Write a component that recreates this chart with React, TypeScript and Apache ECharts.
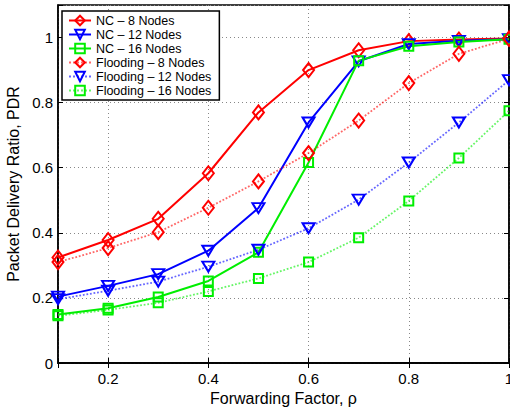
import React, { useEffect, useRef } from "react";
import * as echarts from "echarts";

const xValues = [0.1, 0.2, 0.3, 0.4, 0.5, 0.6, 0.7, 0.8, 0.9, 1.0];
const nc8 = [0.324, 0.378, 0.443, 0.583, 0.77, 0.9, 0.961, 0.989, 0.994, 0.997];
const nc12 = [0.204, 0.237, 0.273, 0.345, 0.476, 0.739, 0.927, 0.98, 0.99, 0.995];
const nc16 = [0.149, 0.168, 0.203, 0.252, 0.34, 0.616, 0.929, 0.973, 0.986, 0.995];
const fl8 = [0.31, 0.353, 0.402, 0.477, 0.558, 0.645, 0.745, 0.86, 0.95, 0.996];
const fl12 = [0.196, 0.222, 0.25, 0.296, 0.348, 0.414, 0.502, 0.616, 0.739, 0.869];
const fl16 = [0.145, 0.163, 0.185, 0.22, 0.26, 0.31, 0.385, 0.498, 0.63, 0.775];

const seriesNames = [
  "NC – 8 Nodes",
  "NC – 12 Nodes",
  "NC – 16 Nodes",
  "Flooding – 8 Nodes",
  "Flooding – 12 Nodes",
  "Flooding – 16 Nodes",
];

const FONT = "Liberation Sans, Arial, Helvetica, sans-serif";

export default function App() {
  const ref = useRef<HTMLDivElement>(null);
  useEffect(() => {
    if (!ref.current) return;
    const chart = echarts.init(ref.current, null, { renderer: "svg" });
    const pts = (ys: number[]) => xValues.map((x, i) => [x, ys[i]]);
    const mk = (
      name: string,
      ys: number[],
      color: string,
      dotted: boolean,
      symbol: string,
      size: number | number[],
      rotate: number
    ) => ({
      name,
      type: "line",
      data: pts(ys),
      symbol,
      symbolSize: size,
      symbolRotate: rotate,
      showAllSymbol: true,
      lineStyle: {
        color,
        width: dotted ? 1.8 : 2,
        type: dotted ? "dotted" : "solid",
        opacity: dotted ? 0.6 : 1,
      },
      itemStyle: { color: "rgba(255,255,255,0)", borderColor: color, borderWidth: 2 },
      emphasis: { disabled: true },
    });
    chart.setOption({
      animation: false,
      textStyle: { fontFamily: FONT },
      grid: {
        left: 58,
        right: 1,
        top: 5,
        bottom: 46,
        outerBoundsMode: "none",
        containLabel: false,
        show: true,
        borderColor: "#000",
        borderWidth: 1.5,
      },
      legend: {
        left: 62,
        top: 11,
        orient: "vertical",
        backgroundColor: "#fff",
        borderColor: "#000",
        borderWidth: 1.5,
        borderRadius: 0,
        padding: [3, 8, 3, 6],
        itemGap: 1,
        itemWidth: 22,
        itemHeight: 12,
        textStyle: { fontSize: 12.5, color: "#000", fontFamily: FONT },
        data: seriesNames,
      },
      xAxis: [
        {
          type: "value",
          min: 0.1,
          max: 1,
          splitNumber: 5,
          name: "Forwarding Factor, ρ",
          nameLocation: "middle",
          nameGap: 25,
          nameTextStyle: { fontSize: 16, color: "#000", fontFamily: FONT },
          axisLine: { lineStyle: { color: "#000", width: 1.5 } },
          axisTick: { inside: true, length: 5, lineStyle: { color: "#000" } },
          axisLabel: {
            fontSize: 15,
            color: "#000",
            margin: 8,
            formatter: (v: number) => (Math.abs(v - 0.1) < 1e-6 ? "" : String(Math.round(v * 10) / 10)),
          },
          splitLine: { show: true, lineStyle: { color: "#888", type: [1, 3], width: 1 } },
        },
        {
          type: "value",
          position: "top",
          min: 0.1,
          max: 1,
          splitNumber: 5,
          axisLine: { show: true, lineStyle: { color: "#000", width: 1.5 } },
          axisTick: { inside: true, length: 5, lineStyle: { color: "#000" } },
          axisLabel: { show: false },
          splitLine: { show: false },
        },
      ],
      yAxis: [
        {
          type: "value",
          min: 0,
          max: 1.1,
          interval: 0.2,
          name: "Packet Delivery Ratio, PDR",
          nameLocation: "middle",
          nameGap: 36,
          nameTextStyle: { fontSize: 16, color: "#000", fontFamily: FONT },
          axisLine: { show: true, lineStyle: { color: "#000", width: 1.5 } },
          axisTick: { inside: true, length: 5, lineStyle: { color: "#000" } },
          axisLabel: {
            fontSize: 15,
            color: "#000",
            margin: 5,
            formatter: (v: number) => (v > 1.05 ? "" : String(Math.round(v * 10) / 10)),
          },
          splitLine: { show: true, lineStyle: { color: "#888", type: [1, 3], width: 1 } },
        },
        {
          type: "value",
          position: "right",
          min: 0,
          max: 1.1,
          interval: 0.2,
          axisLine: { show: true, lineStyle: { color: "#000", width: 1.5 } },
          axisTick: { inside: true, length: 5, lineStyle: { color: "#000" } },
          axisLabel: { show: false },
          splitLine: { show: false },
        },
      ],
      series: [
        mk(seriesNames[0], nc8, "#ff0000", false, "diamond", [11, 14], 0),
        mk(seriesNames[1], nc12, "#0000ff", false, "triangle", [12, 10], 180),
        mk(seriesNames[2], nc16, "#00ee00", false, "rect", [9, 9], 0),
        mk(seriesNames[3], fl8, "#ff0000", true, "diamond", [11, 14], 0),
        mk(seriesNames[4], fl12, "#0000ff", true, "triangle", [12, 10], 180),
        mk(seriesNames[5], fl16, "#00ee00", true, "rect", [9, 9], 0),
      ],
    });
    return () => chart.dispose();
  }, []);
  return (
    <div
      ref={ref}
      style={{ position: "fixed", left: 0, top: 0, width: 510, height: 409, background: "#fff" }}
    />
  );
}
